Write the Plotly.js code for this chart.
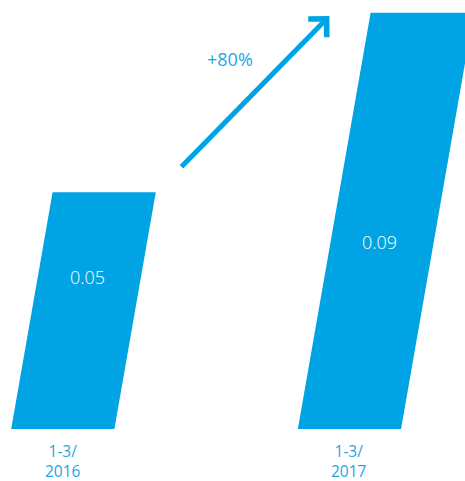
<!DOCTYPE html>
<html><head><meta charset="utf-8">
<script src="https://cdn.plot.ly/plotly-3.0.1.min.js"></script>
<style>html,body{margin:0;padding:0;background:#fff;}#chart{width:465px;height:481px;}</style>
</head><body><div id="chart"></div>
<script>
var categories = ['1-3/<br>2016', '1-3/<br>2017'];
var values = [0.0512, 0.09];
var valueLabels = ['0.05', '0.09'];
var changeLabel = '+80%';

var BLUE = '#00a4e4';
var TEXTBLUE = '#1fa6e0';
var halfW = 0.18;      // half bar width in category units
var skew = 2.82;       // x shift per unit of value (slant)
var labelFrac = [0.643, 0.45];

var traces = values.map(function(v, i) {
  return {
    type: 'scatter', mode: 'lines', fill: 'toself', fillcolor: BLUE,
    line: {width: 0, color: BLUE}, hoverinfo: 'skip', showlegend: false,
    x: [i - halfW, i + halfW, i + halfW + skew * v, i - halfW + skew * v, i - halfW],
    y: [0, 0, v, v, 0],
    cliponaxis: true
  };
});

var annotations = [];
values.forEach(function(v, i) {
  var ly = v * labelFrac[i];
  annotations.push({
    x: i + skew * ly - 0.008, y: ly, xref: 'x', yref: 'y', text: valueLabels[i], showarrow: false,
    font: {family: 'Open Sans', size: 18, color: '#ffffff', weight: 300}
  });
  annotations.push({
    x: i, y: 0, xref: 'x', yref: 'y', text: categories[i], showarrow: false,
    yanchor: 'top', yshift: -10, borderpad: 0,
    font: {family: 'Open Sans', size: 15.5, color: TEXTBLUE, weight: 400}
  });
});
// growth arrow
annotations.push({
  x: 0.93, y: 0.0893, xref: 'x', yref: 'y', ax: 0.409, ay: 0.0564, axref: 'x', ayref: 'y',
  text: '', showarrow: true, arrowhead: 4, arrowwidth: 5, arrowsize: 1, arrowcolor: BLUE, standoff: 0
});
annotations.push({
  x: 0.583, y: 0.0800, xref: 'x', yref: 'y', text: changeLabel, showarrow: false,
  font: {family: 'Open Sans', size: 18, color: TEXTBLUE, weight: 400}
});

var layout = {
  width: 465, height: 481,
  margin: {l: 0, r: 0, t: 0, b: 0},
  paper_bgcolor: '#ffffff', plot_bgcolor: '#ffffff',
  xaxis: {range: [-0.219, 1.403], visible: false, fixedrange: true},
  yaxis: {range: [-0.01124, 0.09275], visible: false, fixedrange: true},
  annotations: annotations,
  showlegend: false
};
Plotly.newPlot('chart', traces, layout, {staticPlot: true});
</script></body></html>
